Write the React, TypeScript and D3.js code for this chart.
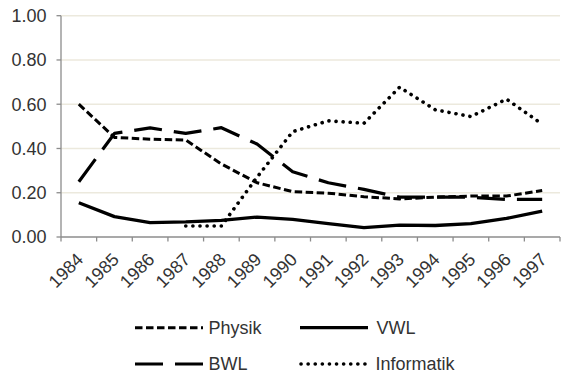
import React from "react";
import * as d3 from "d3";

const years = ["1984","1985","1986","1987","1988","1989","1990","1991","1992","1993","1994","1995","1996","1997"];
const physik = [0.60,0.45,0.442,0.438,0.33,0.245,0.205,0.198,0.182,0.172,0.18,0.185,0.185,0.21];
const vwl = [0.155,0.092,0.065,0.068,0.075,0.09,0.08,0.06,0.042,0.054,0.052,0.06,0.084,0.117];
const bwl = [0.25,0.468,0.493,0.468,0.494,0.42,0.295,0.245,0.215,0.18,0.18,0.18,0.17,0.17];
const informatik: (number | null)[] = [null,null,null,0.05,0.05,0.27,0.476,0.525,0.514,0.677,0.575,0.544,0.623,0.51];
const yTicks = [0, 0.2, 0.4, 0.6, 0.8, 1.0];

const W = 561, H = 376;
const left = 61, right = 560, top = 15.7, bottom = 237;
const FONT = "'Liberation Sans', Arial, sans-serif";
const TEXT = "#333333";
const AXIS = "#8c8c8c";
const GRID = "#ECE9DD";

export default function App() {
  const x = d3.scaleBand<string>().domain(years).range([left, right]).padding(0);
  const y = d3.scaleLinear().domain([0, 1]).range([bottom, top]);
  const cx = (i: number) => (x(years[i]) as number) + x.bandwidth() / 2;
  const line = d3.line<number | null>()
    .defined((d) => d !== null)
    .x((_, i) => cx(i))
    .y((d) => y(d as number));

  const series = [
    { name: "Physik", data: physik, dash: "7.5 3.5", width: 3, cap: "butt" },
    { name: "VWL", data: vwl, dash: "none", width: 3.3, cap: "butt" },
    { name: "BWL", data: bwl, dash: "28 12", width: 3.2, cap: "butt" },
    { name: "Informatik", data: informatik, dash: "0.1 7", width: 3.6, cap: "round" },
  ];

  const legend = [
    { s: series[0], x0: 135, x1: 203, tx: 208.5, cy: 327.7 },
    { s: series[1], x0: 300, x1: 368, tx: 376.5, cy: 327.7 },
    { s: series[2], x0: 135, x1: 203, tx: 208.5, cy: 364 },
    { s: series[3], x0: 301, x1: 366, tx: 375.5, cy: 364 },
  ];

  const boundaries = years.map((yr) => x(yr) as number).concat([right]);

  return (
    <svg width={W} height={H} style={{ position: "absolute", left: 0, top: 0 }} fontFamily={FONT}>
      <rect x={0} y={0} width={W} height={H} fill="#ffffff" />
      {yTicks.filter((t) => t > 0).map((t) => (
        <line key={"g" + t} x1={left} x2={right} y1={y(t)} y2={y(t)} stroke={GRID} strokeWidth={1.5} />
      ))}
      {/* y axis */}
      <line x1={left} x2={left} y1={top} y2={bottom} stroke={AXIS} strokeWidth={1.3} />
      {yTicks.map((t) => (
        <g key={"yt" + t}>
          <line x1={left - 4.5} x2={left} y1={y(t)} y2={y(t)} stroke={AXIS} strokeWidth={1.3} />
          <text x={46.5} y={y(t)} dy="0.36em" textAnchor="end" fontSize={18} fill={TEXT}>
            {t.toFixed(2)}
          </text>
        </g>
      ))}
      {/* x axis */}
      <line x1={left} x2={right} y1={bottom} y2={bottom} stroke={AXIS} strokeWidth={1.3} />
      {boundaries.map((b, i) => (
        <line key={"xt" + i} x1={b} x2={b} y1={bottom} y2={bottom + 4.5} stroke={AXIS} strokeWidth={1.3} />
      ))}
      {years.map((yr, i) => (
        <text
          key={"xl" + yr}
          transform={`translate(${cx(i) + 1},${256}) rotate(-45)`}
          dy="0.36em"
          textAnchor="end"
          fontSize={18}
          fill={TEXT}
        >
          {yr}
        </text>
      ))}
      {/* series */}
      {series.map((s) => (
        <path
          key={s.name}
          d={line(s.data as (number | null)[]) || ""}
          fill="none"
          stroke="#000"
          strokeWidth={s.width}
          strokeDasharray={s.dash}
          strokeLinecap={s.cap as any}
          strokeLinejoin="round"
        />
      ))}
      {/* legend */}
      {legend.map((l) => (
        <g key={"lg" + l.s.name}>
          <line
            x1={l.x0}
            x2={l.x1}
            y1={l.cy}
            y2={l.cy}
            stroke="#000"
            strokeWidth={l.s.width}
            strokeDasharray={l.s.dash}
            strokeLinecap={l.s.cap as any}
          />
          <text x={l.tx} y={l.cy} dy="0.36em" fontSize={18} fill={TEXT}>
            {l.s.name}
          </text>
        </g>
      ))}
    </svg>
  );
}
